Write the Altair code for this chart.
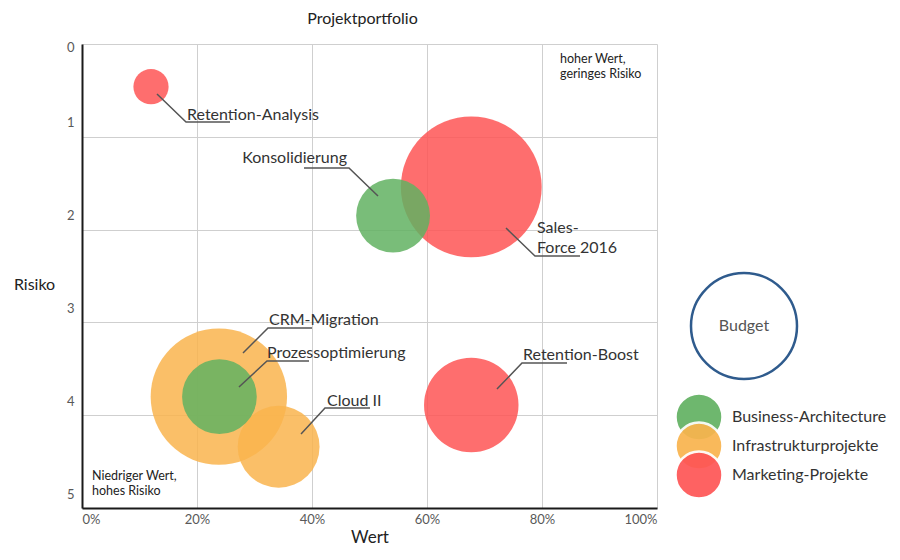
import altair as alt
import pandas as pd

FONT = "Lato"

# ---- data ----
projekte = ["Sales-Force 2016", "Retention-Boost", "Retention-Analysis",
            "CRM-Migration", "Cloud II", "Konsolidierung", "Prozessoptimierung"]
gruppe = ["Marketing-Projekte", "Marketing-Projekte", "Marketing-Projekte",
          "Infrastrukturprojekte", "Infrastrukturprojekte",
          "Business-Architecture", "Business-Architecture"]
wert = [0.677, 0.677, 0.120, 0.238, 0.342, 0.541, 0.239]
risiko = [1.54, 3.89, 0.46, 3.80, 4.34, 1.85, 3.80]
budget = [800, 360, 50, 750, 270, 220, 225]

# label annotations (data units)
label_text = ["Sales-\nForce 2016", "Retention-Boost", "Retention-Analysis",
              "CRM-Migration", "Cloud II", "Konsolidierung", "Prozessoptimierung"]
label_align = ["left", "left", "left", "left", "left", "right", "left"]
label_x = [0.7913, 0.7670, 0.1826, 0.3252, 0.4261, 0.4609, 0.3217]
label_y = [2.037, 3.405, 0.819, 3.028, 3.901, 1.282, 3.384]
lead_x0 = [0.7374, 0.7217, 0.1304, 0.2800, 0.3809, 0.5148, 0.2730]
lead_y0 = [1.983, 3.718, 0.539, 3.330, 4.203, 1.638, 3.696]
lead_xe = [0.7878, 0.7652, 0.1809, 0.3235, 0.4226, 0.4643, 0.3217]
lead_ye = [2.284, 3.438, 0.841, 3.060, 3.922, 1.336, 3.416]
lead_x1 = [0.8661, 0.8435, 0.2574, 0.4000, 0.5009, 0.3861, 0.3948]

notes = ["hoher Wert,\ngeringes Risiko", "Niedriger Wert,\nhohes Risiko"]
notes_x = [0.8313, 0.0174]
notes_y = [0.205, 4.698]

gruppen = ["Business-Architecture", "Infrastrukturprojekte", "Marketing-Projekte"]
farben = ["#62B162", "#F9B44E", "#FE5555"]
x_ticks = [0, 0.2, 0.4, 0.6, 0.8, 1.0]
y_ticks = [0, 1, 2, 3, 4, 5]

# ---- tables ----
df = pd.DataFrame({"Projekt": projekte, "Gruppe": gruppe, "Wert": wert,
                   "Risiko": risiko, "Budget": budget,
                   "z": list(range(len(projekte)))})
lab = pd.DataFrame({"t": label_text, "a": label_align, "x": label_x, "y": label_y})
rows = []
for i, p in enumerate(projekte):
    rows.append({"p": p, "s": 0, "x": lead_x0[i], "y": lead_y0[i]})
    rows.append({"p": p, "s": 1, "x": lead_xe[i], "y": lead_ye[i]})
    rows.append({"p": p, "s": 2, "x": lead_x1[i], "y": lead_ye[i]})
lead = pd.DataFrame(rows)
nt = pd.DataFrame({"t": notes, "x": notes_x, "y": notes_y})
leg = pd.DataFrame({"Gruppe": gruppen})

color = alt.Color("Gruppe:N", scale=alt.Scale(domain=gruppen, range=farben), legend=None)

xenc = alt.X("Wert:Q", scale=alt.Scale(domain=[0, 1]),
             axis=alt.Axis(format=".0%", values=x_ticks, grid=True, ticks=False,
                           domainColor="#1a1a1a", domainWidth=2,
                           gridColor="#cfcfcf", labelColor="#595959",
                           labelFontSize=13, labelFlush=True, labelPadding=5,
                           title="Wert", titleFontSize=17, titleFontWeight="normal",
                           titleColor="#222222", titlePadding=3))
yenc = alt.Y("Risiko:Q", scale=alt.Scale(domain=[0, 5], reverse=True),
             axis=alt.Axis(values=y_ticks, format="d", grid=True, ticks=False,
                           domainColor="#1a1a1a", domainWidth=2,
                           gridColor="#cfcfcf", labelColor="#595959",
                           labelFontSize=13, labelPadding=8,
                           labelOffset={"condition": {"test": "datum.value == 0", "value": 3},
                                        "value": -14},
                           title="Risiko", titleAngle=0, titleX=-48, titleY=240,
                           titleAlign="center", titleBaseline="middle",
                           titleFontSize=16, titleFontWeight="normal",
                           titleColor="#222222"))

bubbles = alt.Chart(df).mark_circle(opacity=0.85).encode(
    x=xenc, y=yenc, color=color,
    size=alt.Size("Budget:Q", scale=alt.Scale(domain=[0, 1000], range=[0, 24800]), legend=None),
    order=alt.Order("z:Q"))

lines = alt.Chart(lead).mark_line(color="#555555", strokeWidth=1.5).encode(
    x="x:Q", y="y:Q", detail="p:N", order="s:Q")

txt_l = alt.Chart(lab).transform_filter("datum.a == 'left'").mark_text(
    align="left", baseline="alphabetic", font=FONT, fontSize=16, color="#333333",
    lineBreak="\n", lineHeight=20).encode(x="x:Q", y="y:Q", text="t:N")
txt_r = alt.Chart(lab).transform_filter("datum.a == 'right'").mark_text(
    align="right", baseline="alphabetic", font=FONT, fontSize=16, color="#333333",
    lineBreak="\n", lineHeight=20).encode(x="x:Q", y="y:Q", text="t:N")
note_txt = alt.Chart(nt).mark_text(
    align="left", baseline="alphabetic", font=FONT, fontSize=12.5, color="#222222",
    lineBreak="\n", lineHeight=15).encode(x="x:Q", y="y:Q", text="t:N")

main = alt.layer(bubbles, lines, txt_l, txt_r, note_txt)

# ---- custom legend ----
leg_budget = alt.Chart(pd.DataFrame({"t": ["Budget"]})).mark_point(
    shape="circle", filled=False, stroke="#2F5B8D", strokeWidth=2.5, size=11236, opacity=1
).encode(x=alt.value(662), y=alt.value(282))
leg_budget_t = alt.Chart(pd.DataFrame({"t": ["Budget"]})).mark_text(
    font=FONT, fontSize=16, color="#555555", align="center", baseline="middle"
).encode(x=alt.value(662), y=alt.value(282), text="t:N")
ly = alt.Y("Gruppe:N", scale=alt.Scale(domain=gruppen, range=[373, 431], padding=0), axis=None)
leg_pts = alt.Chart(leg).mark_circle(size=2209, opacity=0.92, stroke="white", strokeWidth=2.5).encode(
    x=alt.value(617), y=ly, color=color)
leg_lab = alt.Chart(leg).mark_text(
    align="left", baseline="middle", font=FONT, fontSize=16, color="#333333"
).encode(x=alt.value(650), y=ly, text="Gruppe:N")
legend = alt.layer(leg_budget, leg_budget_t, leg_pts, leg_lab)

chart = alt.layer(main, legend).resolve_scale(y="independent").properties(
    width=575, height=464,
    padding={"left": 5, "top": 3, "right": 5, "bottom": 5},
    title=alt.TitleParams("Projektportfolio", fontSize=16, font=FONT, fontWeight="normal",
                          color="#222222", offset=14, dx=-7),
).configure_view(stroke=None).configure_axis(labelFont=FONT, titleFont=FONT)

chart.save("out.html", embed_options={"renderer": "svg", "actions": False})
